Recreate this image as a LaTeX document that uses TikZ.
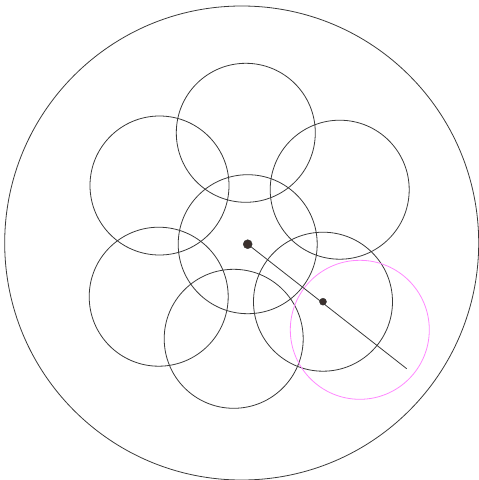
\documentclass[tikz,border=0pt]{standalone}
\usepackage{xcolor}
\usetikzlibrary{positioning}
\definecolor{ink}{HTML}{3a3a3a}
\definecolor{pinkring}{HTML}{ff88ff}
\definecolor{dotfill}{HTML}{3b302d}

\begin{document}
\begin{tikzpicture}[
  x=1pt, y=-1pt,
  ring/.style={circle, draw=ink, line width=0.8pt, inner sep=0pt,
               minimum size=139pt},
  pinkcirc/.style={ring, draw=pinkring},
  bigring/.style={ring, minimum size=474pt},
  dotbig/.style={circle, fill=dotfill, draw=black!80, line width=0.4pt,
                 inner sep=0pt, minimum size=9pt},
  dotsmall/.style={dotbig, minimum size=7pt},
  seg/.style={draw=ink, line width=0.8pt},
]
  \useasboundingbox (0,0) rectangle (479,480);
  \node[bigring](outer) at (241.7,243){};
  % the seven rings
  \node[ring](top) at (245.8,132.8){};
  \node[ring](ul) at (159.5,185.5){};
  \node[ring](ur) at (339.7,189.7){};
  \node[ring](mid) at (247.7,244.2){};
  \node[ring](ll) at (158.7,296.7){};
  \node[ring](bot) at (233.7,338.8){};
  \node[ring](lr) at (323,301.7){};
  \node[pinkcirc](pk) at (359.8,329.8){};
  % radius line with dots
  \coordinate (tip) at (406.7,368.7);
  \draw[seg](mid.center)--(tip);
  \node[dotbig](c0) at (mid.center){};
  \node[dotsmall](c1) at (lr.center){};
\end{tikzpicture}
\end{document}
